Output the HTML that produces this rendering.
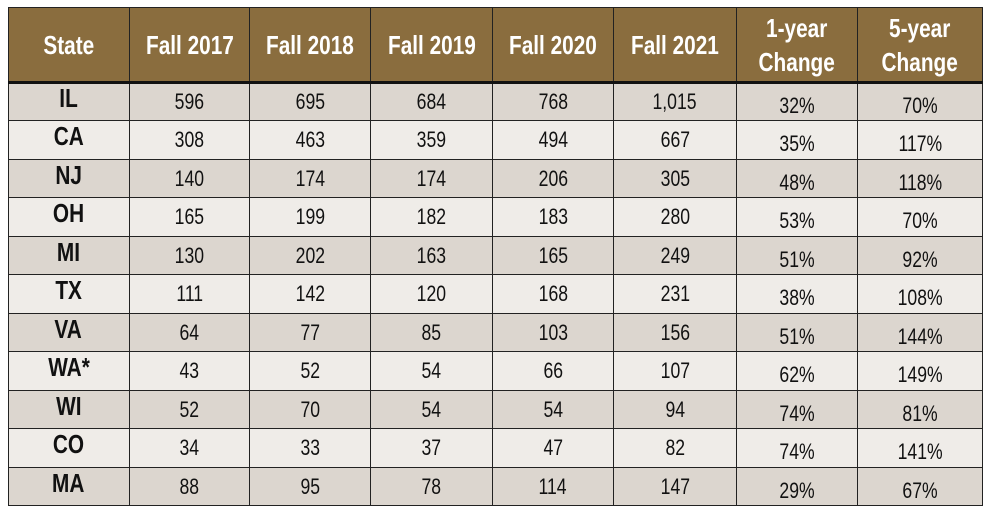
<!DOCTYPE html>
<html><head><meta charset="utf-8"><style>
body{margin:0;width:991px;height:511px;background:#fff;overflow:hidden;position:relative;font-family:"Liberation Sans Narrow","Liberation Sans",sans-serif;}
.c{position:absolute;box-sizing:border-box;border-right:1px solid #222;border-bottom:1px solid #222;display:flex;align-items:center;justify-content:center;text-align:center;}
.h{background:#8a6d3e;color:#fff;font-weight:bold;font-size:26px;line-height:34px;}
.h span{display:inline-block;transform:scaleX(0.8);}
.d{font-size:22px;color:#111;}
.d span{display:inline-block;transform:scaleX(0.8);}
.s{font-weight:bold;font-size:26px;}
#frame{position:absolute;left:8px;top:7px;width:975px;height:499px;border-left:1px solid #222;border-top:1px solid #222;box-sizing:border-box;pointer-events:none;}
#hline{position:absolute;left:8px;top:81px;width:975px;height:3px;background:#111;}
</style></head><body>
<div id="tbl"></div>
<div id="frame"></div>
<div id="hline"></div>
<script>
const headers=["State","Fall 2017","Fall 2018","Fall 2019","Fall 2020","Fall 2021","1-year<br>Change","5-year<br>Change"];
const states=["IL","CA","NJ","OH","MI","TX","VA","WA*","WI","CO","MA"];
const fall2017=["596","308","140","165","130","111","64","43","52","34","88"];
const fall2018=["695","463","174","199","202","142","77","52","70","33","95"];
const fall2019=["684","359","174","182","163","120","85","54","54","37","78"];
const fall2020=["768","494","206","183","165","168","103","66","54","47","114"];
const fall2021=["1,015","667","305","280","249","231","156","107","94","82","147"];
const change1=["32%","35%","48%","53%","51%","38%","51%","62%","74%","74%","29%"];
const change5=["70%","117%","118%","70%","92%","108%","144%","149%","81%","141%","67%"];
const xs=[8,130,250,371,493,614,737,858,983];
const tbl=document.getElementById('tbl');
const top0=7,hh=76,rowTop=83,rh=38.45;
headers.forEach((t,i)=>{
  const el=document.createElement('div');
  el.className='c h';
  el.style.left=xs[i]+'px';el.style.top=top0+'px';el.style.width=(xs[i+1]-xs[i])+'px';el.style.height=hh+'px';
  el.innerHTML='<span>'+t+'</span>';
  
  
  tbl.appendChild(el);
});
const cols=[states,fall2017,fall2018,fall2019,fall2020,fall2021,change1,change5];
states.forEach((st,r)=>{
  const y=Math.round(rowTop+r*rh);
  const y2=Math.round(rowTop+(r+1)*rh);
  cols.forEach((col,i)=>{
    const el=document.createElement('div');
    el.className='c d'+(i==0?' s':'');
    el.style.left=xs[i]+'px';el.style.top=y+'px';el.style.width=(xs[i+1]-xs[i])+'px';el.style.height=(y2-y)+'px';
    el.style.background=r%2==0?'#dcd6cf':'#efece8';
    if(i==0){el.style.alignItems='flex-start';el.style.paddingTop='0px';}
    if(i>=6){el.style.paddingTop='8px';}
    el.innerHTML='<span>'+col[r]+'</span>';
    
    
    tbl.appendChild(el);
  });
});
</script>
</body></html>
